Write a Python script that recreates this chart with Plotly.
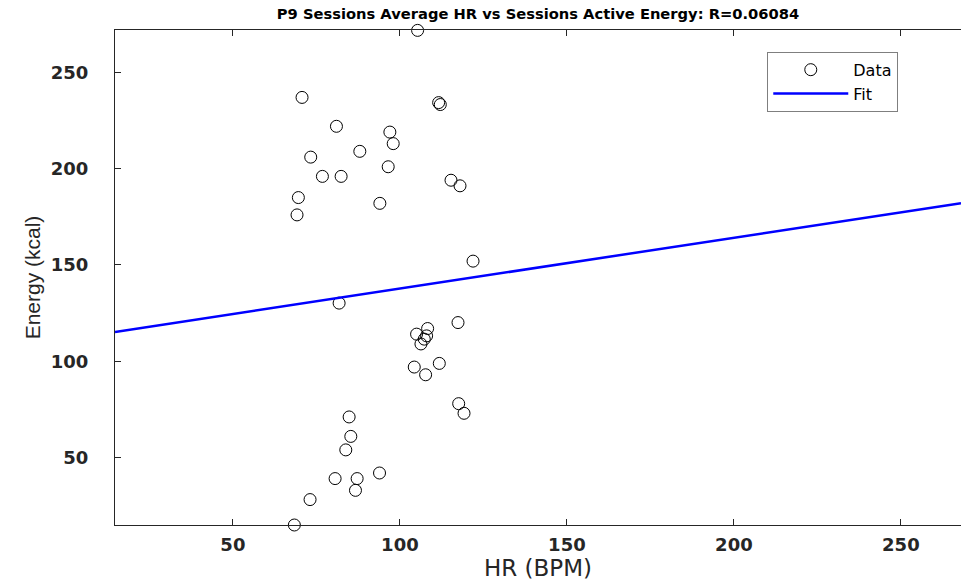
import plotly.graph_objects as go

# P9 sessions: average HR (BPM) vs active energy (kcal)
hr = [105.3, 70.7, 111.6, 112.1, 81.0, 97.0, 98.0, 73.3, 88.0, 96.5,
      76.8, 82.4, 115.3, 118.0, 69.6, 94.0, 69.2, 121.9, 81.8, 117.4,
      108.3, 105.0, 108.0, 107.3, 106.3, 111.8, 104.3, 107.7, 117.6, 119.2,
      84.8, 85.3, 83.8, 93.9, 80.6, 87.2, 86.7, 73.1, 68.4]
energy = [271.8, 237.0, 234.3, 233.3, 222.0, 219.0, 213.0, 206.0, 209.0, 201.0,
          196.0, 196.0, 194.0, 191.1, 185.0, 182.0, 176.0, 152.0, 130.2, 120.1,
          117.0, 114.1, 113.2, 111.5, 109.0, 98.9, 97.0, 93.0, 78.0, 73.0,
          71.1, 61.0, 54.0, 42.0, 39.1, 39.1, 33.0, 28.2, 15.0]

# linear fit
fit_intercept = 111.34
fit_slope = 0.264
r_value = "0.06084"

x_range = [14.7, 268.0]
y_range = [15.0, 272.0]
x_ticks = [50, 100, 150, 200, 250]
y_ticks = [50, 100, 150, 200, 250]

fit_x = x_range
fit_y = [fit_intercept + fit_slope * v for v in fit_x]

fig = go.Figure()

fig.add_trace(go.Scatter(
    x=hr, y=energy, mode='markers', name='Data',
    marker=dict(symbol='circle-open', size=12, color='black',
                line=dict(color='black', width=1)),
    cliponaxis=False
))

fig.add_trace(go.Scatter(
    x=fit_x, y=fit_y, mode='lines', name='Fit',
    line=dict(color='#0000ff', width=2.5)
))

tick_font = dict(family='DejaVu Sans', size=18, color='#262626', weight='bold')

fig.update_layout(
    width=961, height=584,
    margin=dict(l=115, r=0, t=30, b=59),
    paper_bgcolor='white', plot_bgcolor='white',
    title=dict(
        text=f'<b>P9 Sessions Average HR vs Sessions Active Energy: R={r_value}</b>',
        x=(115 + 961) / 2 / 961, xanchor='center', y=0.976, yanchor='middle',
        font=dict(family='DejaVu Sans', size=14.7, color='black')
    ),
    showlegend=True,
    legend=dict(
        x=0.771, y=0.956, xanchor='left', yanchor='top',
        bgcolor='white', bordercolor='#7f7f7f', borderwidth=1,
        font=dict(family='DejaVu Sans', size=16, color='black'),
        tracegroupgap=0, itemwidth=75
    ),
    xaxis=dict(
        range=x_range, tickvals=x_ticks, showgrid=False, zeroline=False,
        showline=True, linecolor='#262626', linewidth=1, mirror='ticks',
        ticks='inside', ticklen=6, tickcolor='#262626', tickfont=tick_font,
        ticklabelstandoff=3,
        title=dict(text='HR (BPM)', standoff=3,
                   font=dict(family='DejaVu Sans', size=23, color='#262626'))
    ),
    yaxis=dict(
        range=y_range, tickvals=y_ticks, showgrid=False, zeroline=False,
        showline=True, linecolor='#262626', linewidth=1, mirror=False,
        ticks='inside', ticklen=6, tickcolor='#262626', tickfont=tick_font,
        ticklabelstandoff=22,
        title=dict(text='Energy (kcal)', standoff=4,
                   font=dict(family='Liberation Sans, Arial', size=21, color='#262626'))
    )
)

fig.write_html('out.html', config={'displayModeBar': False},
               post_script="document.body.style.margin='0';"
                           "document.body.style.overflow='hidden';")
